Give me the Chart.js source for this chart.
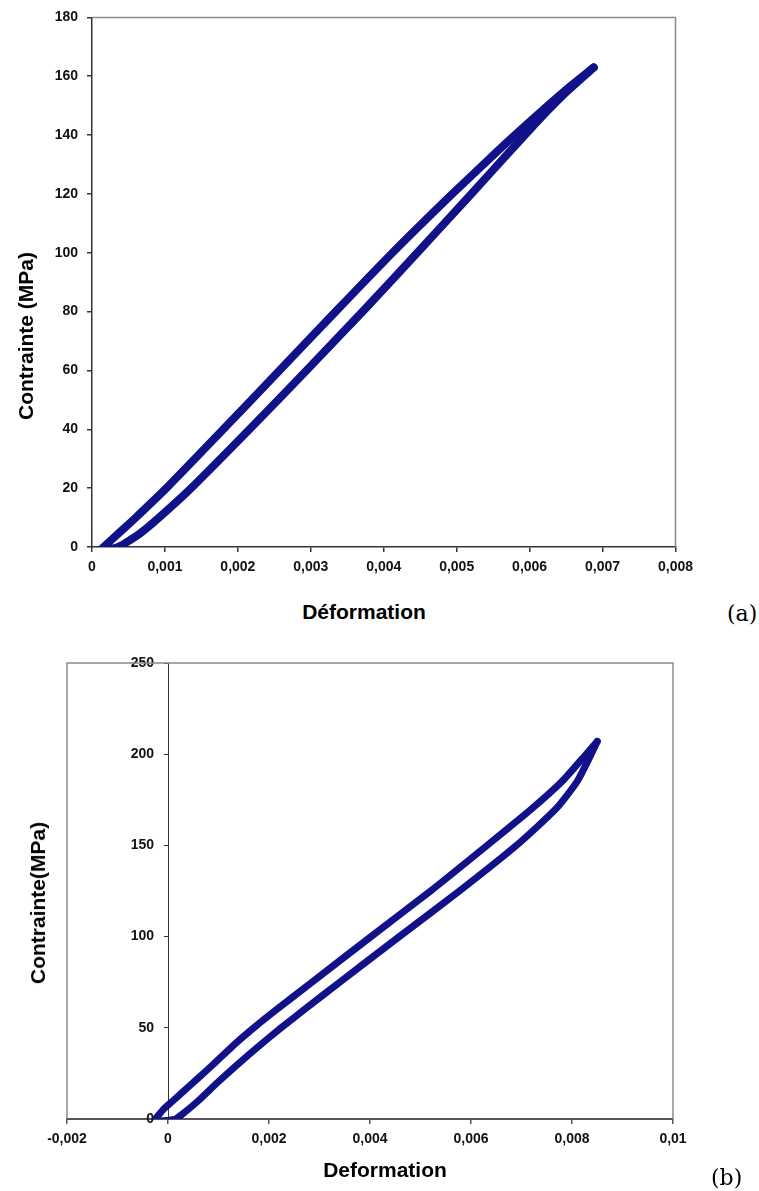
<!DOCTYPE html>
<html>
<head>
<meta charset="utf-8">
<script src="https://cdn.jsdelivr.net/npm/chart.js@4.4.1/dist/chart.umd.min.js"></script>
<style>
  body { margin: 0; background: #fff; width: 759px; height: 1191px; overflow: hidden; position: relative; }
  canvas { position: absolute; left: 0; }
  .lbl { position: absolute; font-family: "Liberation Sans", Arial, sans-serif; font-weight: bold; color: #000; white-space: nowrap; }
  .ytitle { transform: translate(-50%, -50%) rotate(-90deg); }
  .xtitle { transform: translate(-50%, -50%); }
  .tag { position: absolute; font-family: "DejaVu Serif", "Liberation Serif", serif; font-size: 22px; color: #000; transform: translateY(-50%); }
</style>
</head>
<body>
<canvas id="chartA" width="700" height="590" style="top:0"></canvas>
<canvas id="chartB" width="700" height="560" style="top:640px"></canvas>

<div class="lbl ytitle" style="left:26px; top:336px; font-size:21px;">Contrainte (MPa)</div>
<div class="lbl xtitle" style="left:364px; top:612px; font-size:21px;">Déformation</div>
<div class="tag" style="left:727px; top:613px;">(a)</div>

<div class="lbl ytitle" style="left:38px; top:903px; font-size:21px;">Contrainte(MPa)</div>
<div class="lbl xtitle" style="left:385px; top:1170px; font-size:21px;">Deformation</div>
<div class="tag" style="left:711px; top:1177px;">(b)</div>

<script>
// (a) loop: unloading branch (from the tip down), then loading branch back up
const strainA_down = [0.00688, 0.00648, 0.00602, 0.00558, 0.00494, 0.00412, 0.00334, 0.00257, 0.0018, 0.00102, 0.0006, 0.00038, 0.00016, 0.00012];
const stressA_down = [163, 155, 145, 135, 120, 100, 80, 60, 40, 20, 10, 5, 0, -1];
const strainA_up = [0.00022, 0.00036, 0.0005, 0.00068, 0.00092, 0.00136, 0.00216, 0.00294, 0.00371, 0.00446, 0.0052, 0.00575, 0.00612, 0.00652, 0.00688];
const stressA_up = [-1, 0, 2, 5, 10, 20, 40, 60, 80, 100, 120, 135, 145, 155, 163];

// (b) loop
const strainB_down = [0.0085, 0.00828, 0.0078, 0.0072, 0.00632, 0.0052, 0.00402, 0.00285, 0.00215, 0.0017, 0.00128, 0.0009, 0.0005, 0.0001, -0.0001, -0.00025];
const stressB_down = [207, 200, 185, 170, 150, 125, 100, 75, 60, 50, 40, 30, 20, 10, 5, 0];
const strainB_up = [-0.0001, 0.00015, 0.0003, 0.0006, 0.00098, 0.00138, 0.0018, 0.00224, 0.0027, 0.0034, 0.00458, 0.00577, 0.0069, 0.00768, 0.0081, 0.00838, 0.0085];
const stressB_up = [-1, 0, 3, 10, 20, 30, 40, 50, 60, 75, 100, 125, 150, 170, 185, 200, 207];

const ticksXA = [0, 0.001, 0.002, 0.003, 0.004, 0.005, 0.006, 0.007, 0.008];
const ticksYA = [0, 20, 40, 60, 80, 100, 120, 140, 160, 180];
const ticksXB = [-0.002, 0, 0.002, 0.004, 0.006, 0.008, 0.01];
const ticksYB = [0, 50, 100, 150, 200, 250];

const lineColor = '#11118a';
const tickFont = { family: 'Liberation Sans', size: 14, weight: 'bold' };

function toPoints(xs, ys) {
    return xs.map((x, i) => ({ x: x, y: ys[i] }));
}

function fmt(v) {
    return String(Number(v.toFixed(4))).replace('.', ',');
}

// thin gray frame on the sides of the plot that have no axis
const framePlugin = {
    id: 'frame',
    beforeDatasetsDraw(chart, args, opts) {
        const a = chart.chartArea;
        const ctx = chart.ctx;
        ctx.save();
        ctx.strokeStyle = opts.color || '#8a8a8a';
        ctx.lineWidth = 1.5;
        ctx.beginPath();
        if (opts.left) {
            ctx.moveTo(a.left, a.bottom);
            ctx.lineTo(a.left, a.top);
        } else {
            ctx.moveTo(a.left, a.top);
        }
        ctx.lineTo(a.right, a.top);
        ctx.lineTo(a.right, a.bottom);
        ctx.stroke();
        ctx.restore();
    }
};

function loopDataset(points, width) {
    return {
        data: points,
        showLine: true,
        borderColor: lineColor,
        backgroundColor: lineColor,
        borderWidth: width,
        pointRadius: 0,
        borderCapStyle: 'round',
        borderJoinStyle: 'round',
        tension: 0.2
    };
}

new Chart(document.getElementById('chartA'), {
    type: 'scatter',
    data: {
        datasets: [
            loopDataset(toPoints(strainA_down, stressA_down), 8),
            loopDataset(toPoints(strainA_up, stressA_up), 8)
        ]
    },
    options: {
        responsive: false,
        animation: false,
        layout: { padding: { top: 15, right: 20, left: 0, bottom: 0 } },
        plugins: { legend: { display: false }, tooltip: { enabled: false }, frame: { left: false } },
        scales: {
            x: {
                type: 'linear', min: 0, max: 0.008,
                afterBuildTicks: s => { s.ticks = ticksXA.map(v => ({ value: v })); },
                afterFit: s => { s.height = 43; },
                grid: { drawOnChartArea: false, drawTicks: true, tickLength: 5, color: '#333', lineWidth: 1.5 },
                border: { display: true, color: '#333', width: 1.5 },
                ticks: { callback: v => fmt(v), color: '#111', padding: 7, maxRotation: 0, font: tickFont }
            },
            y: {
                type: 'linear', min: 0, max: 180,
                afterBuildTicks: s => { s.ticks = ticksYA.map(v => ({ value: v })); },
                afterFit: s => { s.width = 92; },
                grid: { drawOnChartArea: false, drawTicks: true, tickLength: 5, color: '#333', lineWidth: 1.5 },
                border: { display: true, color: '#333', width: 1.5 },
                ticks: { color: '#111', padding: 9, font: tickFont }
            }
        }
    },
    plugins: [framePlugin]
});

new Chart(document.getElementById('chartB'), {
    type: 'scatter',
    data: {
        datasets: [
            loopDataset(toPoints(strainB_down, stressB_down), 7),
            loopDataset(toPoints(strainB_up, stressB_up), 7)
        ]
    },
    options: {
        responsive: false,
        animation: false,
        layout: { padding: { top: 23, right: 27, left: 67, bottom: 0 } },
        plugins: { legend: { display: false }, tooltip: { enabled: false }, frame: { left: true } },
        scales: {
            x: {
                type: 'linear', min: -0.002, max: 0.01,
                afterBuildTicks: s => { s.ticks = ticksXB.map(v => ({ value: v })); },
                afterFit: s => { s.height = 81; },
                grid: { drawOnChartArea: false, drawTicks: true, tickLength: 5, color: '#555', lineWidth: 1.5 },
                border: { display: true, color: '#555', width: 2 },
                ticks: { callback: v => fmt(v), color: '#111', padding: 7, maxRotation: 0, font: tickFont }
            },
            y: {
                type: 'linear', min: 0, max: 250, position: { x: 0 },
                afterBuildTicks: s => { s.ticks = ticksYB.map(v => ({ value: v })); },
                grid: { drawOnChartArea: false, drawTicks: true, tickLength: 4, color: '#333', lineWidth: 1 },
                border: { display: true, color: '#333', width: 1 },
                // axis sits inside the plot at x = 0, so the gap to the labels is added here
                ticks: { callback: v => v + '\u2003', color: '#111', font: tickFont }
            }
        }
    },
    plugins: [framePlugin]
});
</script>
</body>
</html>
